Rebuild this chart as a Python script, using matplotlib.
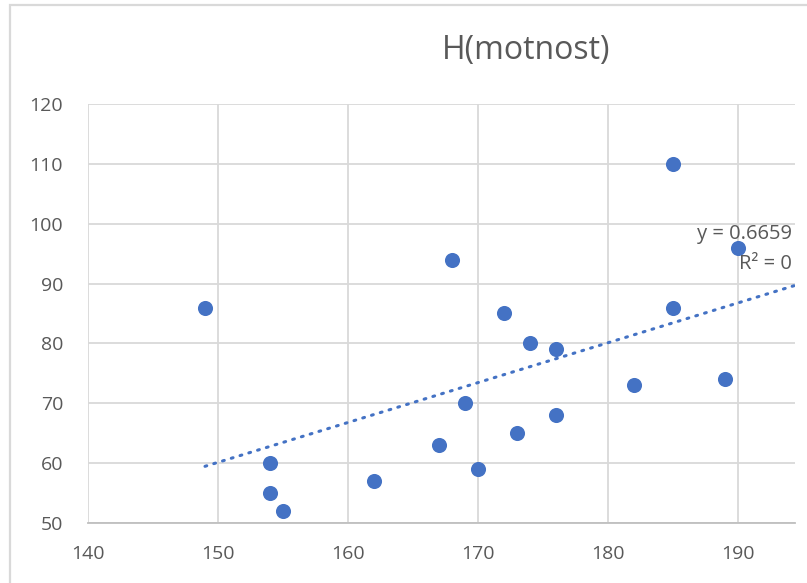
import matplotlib.pyplot as plt
from matplotlib.patches import Rectangle

# data
vyska = [149, 154, 154, 155, 162, 167, 168, 169, 170, 172, 173, 174, 176, 176, 182, 185, 185, 189, 190]
hmotnost = [86, 60, 55, 52, 57, 63, 94, 70, 59, 85, 65, 80, 79, 68, 73, 110, 86, 74, 96]
x_ticks = [140, 150, 160, 170, 180, 190]
y_ticks = [50, 60, 70, 80, 90, 100, 110, 120]

# trend line as shown in the chart label (the label is cut off on the right)
trend_k = 0.6659
trend_q = -39.75
trend_x = [149, 200]

plt.rcParams['font.family'] = ['Open Sans', 'DejaVu Sans']
seda = '#595959'
modra = '#4472C4'

W, H = 807, 583
fig = plt.figure(figsize=(W / 100, H / 100), dpi=100)

# axes: x=140 at 88px, 13px per unit, cut at 795px; y=120 at 104px, y=50 at 523px
ax = fig.add_axes([88 / W, (H - 523) / H, 707 / W, 419 / H])
ax.set_xlim(140, 140 + 707 / 13)
ax.set_ylim(50, 120)
ax.set_xticks(x_ticks)
ax.set_yticks(y_ticks)
ax.grid(True, color='#D9D9D9', linewidth=1.3)
ax.set_axisbelow(True)
for s in ['top', 'right', 'left']:
    ax.spines[s].set_visible(False)
ax.spines['bottom'].set_color('#BFBFBF')
ax.spines['bottom'].set_linewidth(1.3)
ax.tick_params(length=0, labelsize=14, colors=seda)
ax.tick_params(axis='x', pad=16)
ax.tick_params(axis='y', pad=18)

ax.scatter(vyska, hmotnost, s=118, color=modra, zorder=3, linewidths=0)

ax.plot(trend_x, [trend_k * x + trend_q for x in trend_x], color=modra, linewidth=2.2,
        linestyle=(0, (0.6, 2.4)), dash_capstyle='round', zorder=2)

fig.text(697 / W, 1 - 234 / H, f'y = {trend_k:.4f}', fontsize=14.5,
         color=seda, ha='left', va='center')
fig.text(739 / W, 1 - 264 / H, 'R² = 0', fontsize=14.5,
         color=seda, ha='left', va='center')

fig.text(526 / W, 1 - 50 / H, 'H(motnost)', fontsize=23, color=seda,
         ha='center', va='center')

# ramecek grafu
fig.patches.append(Rectangle((10 / W, -0.1), 1.2, 1.1 - 5 / H, transform=fig.transFigure,
                             fill=False, edgecolor='#D9D9D9', linewidth=1.6))

fig.savefig('out.png', dpi=100)
